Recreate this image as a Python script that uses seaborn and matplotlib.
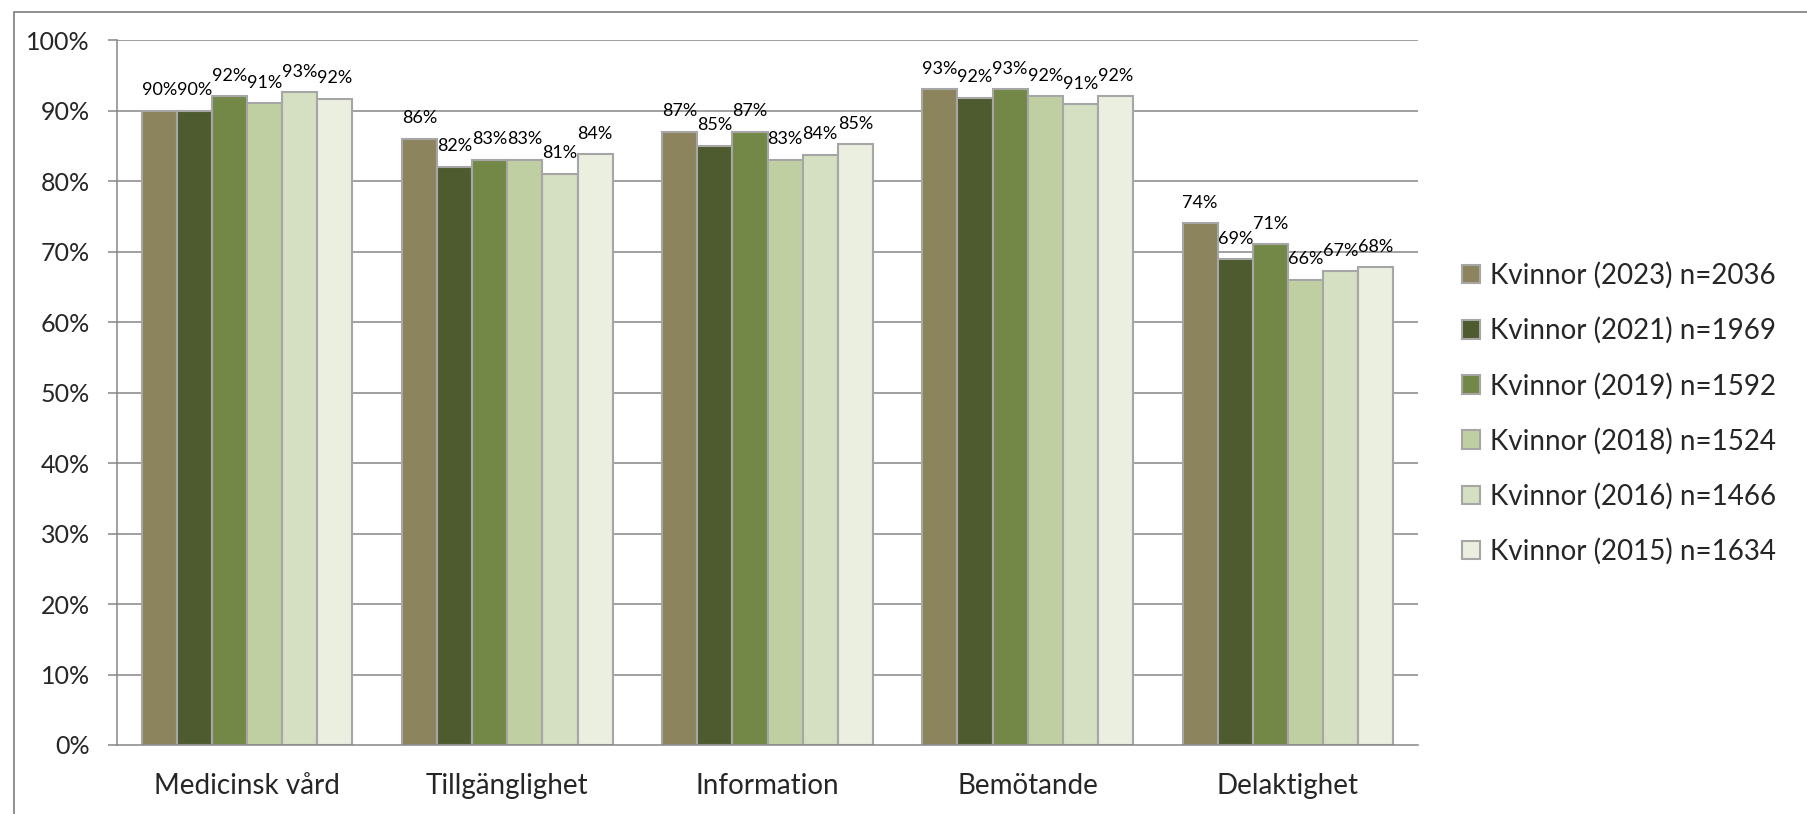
import pandas as pd
import numpy as np
import matplotlib
matplotlib.use("Agg")
import matplotlib.pyplot as plt
from matplotlib.patches import Rectangle
import seaborn as sns

categories = ["Medicinsk vård", "Tillgänglighet", "Information", "Bemötande", "Delaktighet"]
series = ["Kvinnor (2023) n=2036", "Kvinnor (2021) n=1969", "Kvinnor (2019) n=1592",
          "Kvinnor (2018) n=1524", "Kvinnor (2016) n=1466", "Kvinnor (2015) n=1634"]
v2023 = [90, 86, 87, 93, 74]
v2021 = [90, 82, 85, 91.8, 68.9]
v2019 = [92, 83, 87, 93, 71]
v2018 = [91, 83, 83, 92, 66]
v2016 = [92.6, 81, 83.7, 90.9, 67.2]
v2015 = [91.7, 83.8, 85.2, 92, 67.8]
colors = ["#948A54", "#4F6228", "#77933C", "#C3D69B", "#D7E4BD", "#EBF1DE"]

rows = []
for s, vals in zip(series, [v2023, v2021, v2019, v2018, v2016, v2015]):
    for c, v in zip(categories, vals):
        rows.append({"kategori": c, "serie": s, "andel": v})
df = pd.DataFrame(rows)

sns.set_style("white")
plt.rcParams['font.family'] = ['Lato', 'DejaVu Sans']

W, H = 1807, 814
fig = plt.figure(figsize=(W / 100, H / 100), dpi=100)
ax = fig.add_axes([117 / W, 1 - 745 / H, (1418 - 117) / W, (745 - 40) / H])

grid_c = "#868686"
for y in range(10, 101, 10):
    ax.axhline(y, color=grid_c, lw=1.1, zorder=0)

sns.barplot(data=df, x="kategori", y="andel", hue="serie", palette=colors, width=0.81,
            edgecolor="#A6A6A6", linewidth=1.5, ax=ax, zorder=2, legend=True)

for cont in ax.containers:
    ax.bar_label(cont, labels=[f"{b.get_height():.0f}%" for b in cont], padding=9,
                 fontsize=13, color="black")

ax.set_ylim(0, 100)
ax.set_xlim(-0.5, 4.5)
ax.set_yticks(range(0, 101, 10))
ax.set_yticklabels([f"{y}%" for y in range(0, 101, 10)], fontsize=18)
ax.set_xticks(range(5))
ax.set_xticklabels(categories, fontsize=20)
ax.set_xticks(np.arange(-0.5, 5, 1), minor=True)
ax.tick_params(axis="x", which="major", length=0, pad=20)
ax.tick_params(axis="x", which="minor", length=6.5, width=1.1, color=grid_c, direction="out")
ax.tick_params(axis="y", length=6.5, width=1.1, color=grid_c, direction="out", pad=13, left=True)
ax.set_xlabel("")
ax.set_ylabel("")
for side in ["top", "right"]:
    ax.spines[side].set_visible(False)
for side in ["left", "bottom"]:
    ax.spines[side].set_color(grid_c)
    ax.spines[side].set_linewidth(1.1)

handles, labels = ax.get_legend_handles_labels()
ax.get_legend().remove()
fig.legend(handles, labels, loc="upper left", bbox_to_anchor=(1462 / W, 1 - 262 / H),
           frameon=False, fontsize=20, labelspacing=1.02, handlelength=0.65, handleheight=0.65,
           handletextpad=0.36, borderaxespad=0, borderpad=0)

fig.patches.append(Rectangle((14 / W, -0.05), 1.0, 1 - 12 / H + 0.05, transform=fig.transFigure,
                             fill=False, edgecolor=grid_c, lw=1.3))

fig.savefig("out.png", dpi=100)
